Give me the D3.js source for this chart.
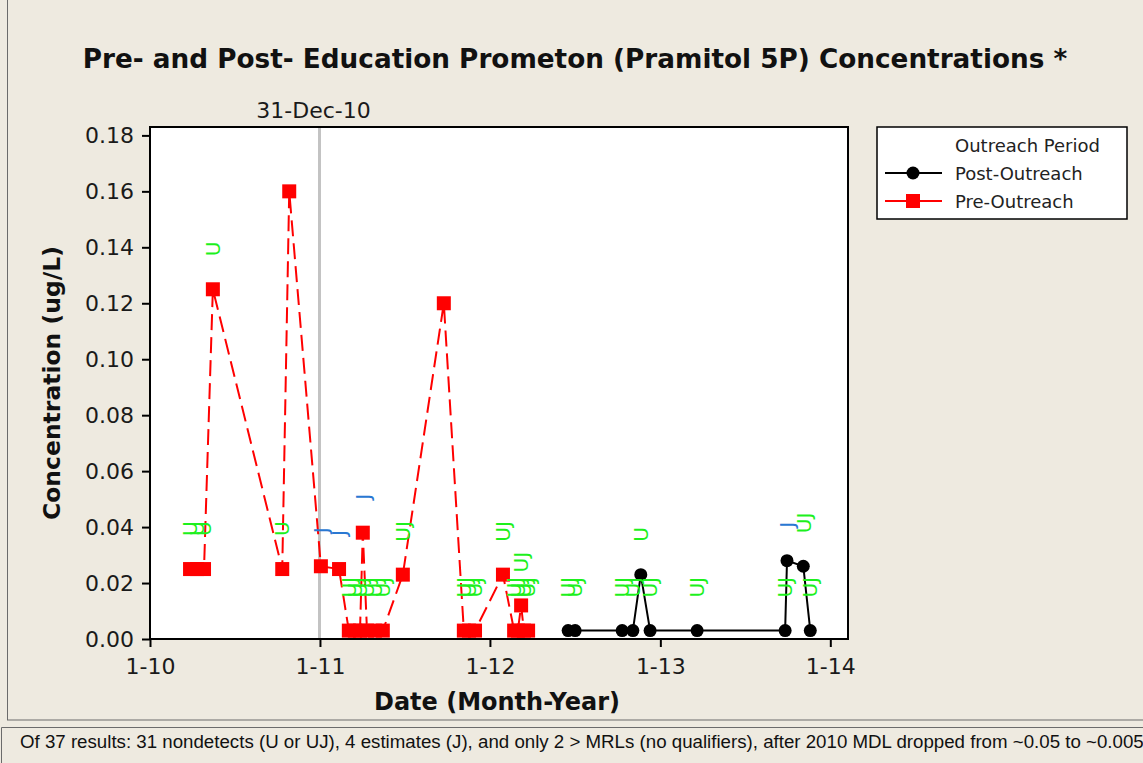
<!DOCTYPE html>
<html>
<head>
<meta charset="utf-8">
<script src="https://cdn.jsdelivr.net/npm/d3@7"></script>
<style>
  body { margin: 0; background: #eeeae0; }
  svg { display: block; }
</style>
</head>
<body>
<div id="chart"></div>
<script>
// Pre-Outreach samples (red, dashed)
const preDates = [
  "2010-03-28", "2010-04-12", "2010-04-27", "2010-05-16", "2010-10-12", "2010-10-27",
  "2011-01-03", "2011-02-11", "2011-03-04", "2011-03-17", "2011-03-28", "2011-04-03",
  "2011-04-12", "2011-04-29", "2011-05-16", "2011-06-28", "2011-09-24", "2011-11-06",
  "2011-11-17", "2011-11-30", "2012-01-29", "2012-02-22", "2012-03-01", "2012-03-08",
  "2012-03-14", "2012-03-23"
];
const preValues = [
  0.025, 0.025, 0.025, 0.125, 0.025, 0.16,
  0.026, 0.025, 0.003, 0.003, 0.003, 0.038,
  0.003, 0.003, 0.003, 0.023, 0.12, 0.003,
  0.003, 0.003, 0.023, 0.003, 0.003, 0.012,
  0.003, 0.003
];
const preFlags = [
  "U", "U", "U", "U", "U", "",
  "J", "J", "UJ", "UJ", "UJ", "J",
  "UJ", "UJ", "UJ", "UJ", "", "UJ",
  "UJ", "UJ", "UJ", "UJ", "UJ", "UJ",
  "UJ", "UJ"
];

// Post-Outreach samples (black, solid)
const postDates = [
  "2012-06-17", "2012-07-02", "2012-10-11", "2012-11-03", "2012-11-20", "2012-12-10",
  "2013-03-21", "2013-09-26", "2013-09-30", "2013-11-04", "2013-11-19"
];
const postValues = [0.003, 0.003, 0.003, 0.003, 0.023, 0.003, 0.003, 0.003, 0.028, 0.026, 0.003];
const postFlags = ["UJ", "UJ", "UJ", "UJ", "U", "UJ", "UJ", "UJ", "J", "UJ", "UJ"];

const yTicks = [0, 0.02, 0.04, 0.06, 0.08, 0.10, 0.12, 0.14, 0.16, 0.18];
const xTicks = ["2010-01-01", "2011-01-01", "2012-01-01", "2013-01-01", "2014-01-01"];
const outreachDate = "2010-12-31";
const seriesNames = ["Post-Outreach", "Pre-Outreach"];

const width = 1143, height = 763;
const parse = d3.timeParse("%Y-%m-%d");
const font = "'DejaVu Sans', Verdana, sans-serif";

const pre = preDates.map((d, i) => ({ date: parse(d), value: preValues[i], flag: preFlags[i] }));
const post = postDates.map((d, i) => ({ date: parse(d), value: postValues[i], flag: postFlags[i] }));

let svg = d3.select("#chart")
  .append("svg")
  .attr("width", width)
  .attr("height", height);

svg.append("rect")
  .attr("width", width)
  .attr("height", height)
  .attr("fill", "#eeeae0");

// frames round the graph and the note
svg.append("rect")
  .attr("x", 7.5).attr("y", -1)
  .attr("width", width).attr("height", 721)
  .attr("fill", "none").attr("stroke", "#6b6b6b");

svg.append("path")
  .attr("d", "M1.5,763 V727.5 H1143")
  .attr("fill", "none").attr("stroke", "#6b6b6b");

let x = d3.scaleTime()
  .domain([parse("2010-01-01"), parse("2014-02-08")])
  .range([150, 848]);

let y = d3.scaleLinear()
  .domain([0, 0.183])
  .range([639, 127]);

function fitText(sel, target) {
  let w = sel.node().getComputedTextLength();
  let fs = parseFloat(sel.style("font-size"));
  sel.style("font-size", (fs * target / w) + "px");
}

// plot area
svg.append("rect")
  .attr("x", 150).attr("y", 127)
  .attr("width", 698).attr("height", 512)
  .attr("fill", "#fff");

// reference line at 31-Dec-10
svg.append("line")
  .attr("x1", x(parse(outreachDate))).attr("x2", x(parse(outreachDate)))
  .attr("y1", 128).attr("y2", 638)
  .attr("stroke", "#c3c3c3")
  .attr("stroke-width", 3);

svg.append("text")
  .attr("x", x(parse(outreachDate)) - 6)
  .attr("y", 118)
  .attr("text-anchor", "middle")
  .style("font", "22px " + font)
  .attr("fill", "#1a1a1a")
  .text("31-Dec-10");

// axes
let yAxis = svg.append("g")
  .attr("transform", "translate(150,0)")
  .call(d3.axisLeft(y).tickValues(yTicks).tickFormat(d3.format(".2f")).tickSize(8).tickPadding(8));

let xAxis = svg.append("g")
  .attr("transform", "translate(0,639)")
  .call(d3.axisBottom(x).tickValues(xTicks.map(parse))
    .tickFormat(d => "1-" + d3.timeFormat("%y")(d)).tickSize(8).tickPadding(11));

[yAxis, xAxis].forEach(a => {
  a.select(".domain").remove();
  a.selectAll("line").attr("stroke", "#000").attr("stroke-width", 2);
  a.selectAll("text").style("font", "22px " + font).attr("fill", "#1a1a1a");
});

svg.append("rect")
  .attr("x", 150).attr("y", 127)
  .attr("width", 698).attr("height", 512)
  .attr("fill", "none")
  .attr("stroke", "#000")
  .attr("stroke-width", 2);

// lines
let line = d3.line().x(d => x(d.date)).y(d => y(d.value));

svg.append("path")
  .datum(pre)
  .attr("d", line)
  .attr("fill", "none")
  .attr("stroke", "#ff0000")
  .attr("stroke-width", 2)
  .attr("stroke-dasharray", "16,7");

svg.append("path")
  .datum(post)
  .attr("d", line)
  .attr("fill", "none")
  .attr("stroke", "#000")
  .attr("stroke-width", 2);

// markers
svg.append("g").selectAll("rect")
  .data(pre)
  .join("rect")
  .attr("x", d => x(d.date) - 7)
  .attr("y", d => y(d.value) - 7)
  .attr("width", 14)
  .attr("height", 14)
  .attr("fill", "#ff0000");

svg.append("g").selectAll("circle")
  .data(post)
  .join("circle")
  .attr("cx", d => x(d.date))
  .attr("cy", d => y(d.value))
  .attr("r", 6.5)
  .attr("fill", "#000");

// qualifier labels, rotated
svg.append("g").selectAll("text")
  .data(pre.concat(post).filter(d => d.flag))
  .join("text")
  .attr("transform", d => `translate(${x(d.date)},${y(d.value) - 33}) rotate(-90)`)
  .attr("dy", "0.36em")
  .attr("fill", d => d.flag === "J" ? "#2a78d2" : "#1df01d")
  .style("font", "20px " + font)
  .text(d => d.flag);

// title and axis titles
let title = svg.append("text")
  .attr("x", 575).attr("y", 68)
  .attr("text-anchor", "middle")
  .style("font", "bold 24px " + font)
  .attr("fill", "#111")
  .text("Pre- and Post- Education Prometon (Pramitol 5P) Concentrations *");
fitText(title, 985);

let ytitle = svg.append("text")
  .attr("transform", "translate(60,383) rotate(-90)")
  .attr("text-anchor", "middle")
  .style("font", "bold 22px " + font)
  .attr("fill", "#111")
  .text("Concentration (ug/L)");
fitText(ytitle, 274);

let xtitle = svg.append("text")
  .attr("x", 497).attr("y", 710)
  .attr("text-anchor", "middle")
  .style("font", "bold 22px " + font)
  .attr("fill", "#111")
  .text("Date (Month-Year)");
fitText(xtitle, 246);

// legend
let legend = svg.append("g");
legend.append("rect")
  .attr("x", 877).attr("y", 127)
  .attr("width", 250).attr("height", 92)
  .attr("fill", "#fff")
  .attr("stroke", "#000")
  .attr("stroke-width", 1.5);

let lt = legend.append("text")
  .attr("x", 955).attr("y", 152)
  .style("font", "17px " + font)
  .attr("fill", "#222")
  .text("Outreach Period");
fitText(lt, 145);
let legendSize = lt.style("font-size");

seriesNames.forEach((name, i) => {
  let ly = 173 + i * 28;
  let color = i === 0 ? "#000" : "#ff0000";
  legend.append("line")
    .attr("x1", 885).attr("x2", 942)
    .attr("y1", ly).attr("y2", ly)
    .attr("stroke", color).attr("stroke-width", 2);
  if (i === 0) {
    legend.append("circle").attr("cx", 913).attr("cy", ly).attr("r", 6.5).attr("fill", color);
  } else {
    legend.append("rect").attr("x", 906).attr("y", ly - 7).attr("width", 14).attr("height", 14).attr("fill", color);
  }
  legend.append("text")
    .attr("x", 955).attr("y", ly + 7)
    .style("font", legendSize + " " + font)
    .attr("fill", "#222")
    .text(name);
});

// footnote
let note = svg.append("text")
  .attr("x", 20).attr("y", 748)
  .style("font", "15px 'Liberation Sans', Arial, sans-serif")
  .attr("fill", "#111")
  .text("Of 37 results: 31 nondetects (U or UJ), 4 estimates (J), and only 2 > MRLs (no qualifiers), after 2010 MDL dropped from ~0.05 to ~0.005");
fitText(note, 1125);
</script>
</body>
</html>
